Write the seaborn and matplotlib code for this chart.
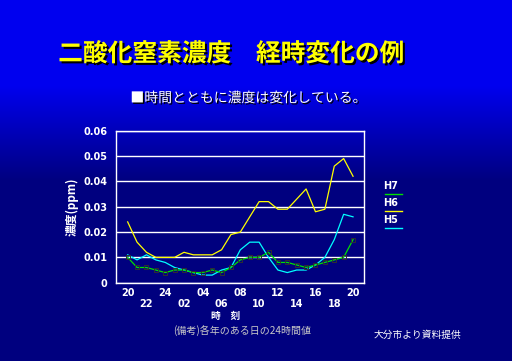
import numpy as np
import pandas as pd
import matplotlib
matplotlib.use("Agg")
import matplotlib.pyplot as plt
import seaborn as sns
from matplotlib.lines import Line2D
import matplotlib.patheffects as pe

# 時刻 (20時から翌20時まで)
hours = ["20", "21", "22", "23", "24", "01", "02", "03", "04", "05", "06", "07", "08",
         "09", "10", "11", "12", "13", "14", "15", "16", "17", "18", "19", "20"]
h7 = [0.010, 0.006, 0.006, 0.005, 0.004, 0.005, 0.005, 0.004, 0.004, 0.005, 0.004, 0.006, 0.009,
      0.010, 0.010, 0.012, 0.008, 0.008, 0.007, 0.006, 0.007, 0.008, 0.009, 0.010, 0.017]
h6 = [0.024, 0.016, 0.012, 0.010, 0.010, 0.010, 0.012, 0.011, 0.011, 0.011, 0.013, 0.019, 0.020,
      0.026, 0.032, 0.032, 0.029, 0.029, 0.033, 0.037, 0.028, 0.029, 0.046, 0.049, 0.042]
h5 = [0.011, 0.009, 0.011, 0.009, 0.008, 0.006, 0.005, 0.004, 0.003, 0.003, 0.005, 0.006, 0.013,
      0.016, 0.016, 0.010, 0.005, 0.004, 0.005, 0.005, 0.007, 0.010, 0.017, 0.027, 0.026]
series = ["H7", "H6", "H5"]
colors = {"H7": "#00e000", "H6": "#ffff00", "H5": "#00ffff"}

n = len(hours)
df = pd.DataFrame({
    "idx": list(range(n)) * 3,
    "val": h7 + h6 + h5,
    "年": ["H7"] * n + ["H6"] * n + ["H5"] * n,
})

plt.rcParams['font.family'] = ['Noto Sans CJK JP', 'DejaVu Sans']

fig = plt.figure(figsize=(5.12, 3.61), dpi=100)

# 背景グラデーション
bg = fig.add_axes([0, 0, 1, 1])
rows = np.arange(361)
t = np.clip((rows - 85) / 95.0, 0, 1)
col = np.zeros((361, 1, 3))
col[:, 0, 2] = 0.94 - t * (0.94 - 0.50)
bg.imshow(col, aspect="auto", extent=[0, 1, 0, 1])
bg.axis("off")

ax = fig.add_axes([0.2266, 0.2169, 0.4844, 0.4211])
ax.set_facecolor("none")
sns.lineplot(data=df[df["年"] != "H7"], x="idx", y="val", hue="年", palette=colors, ax=ax,
             legend=False, linewidth=0.9)
# 緑線は黒い点つき
sns.lineplot(data=df[df["年"] == "H7"], x="idx", y="val", color=colors["H7"], ax=ax,
             legend=False, linewidth=0.9, marker="s", markersize=2.5,
             markerfacecolor="none", markeredgecolor="#303030", markeredgewidth=0.7)

ax.set_xlim(-1.24, 25.17)
ax.set_ylim(0, 0.06)
ax.set_yticks([0, 0.01, 0.02, 0.03, 0.04, 0.05, 0.06])
ax.set_yticklabels(["0", "0.01", "0.02", "0.03", "0.04", "0.05", "0.06"])
ax.grid(axis="y", color="white", linewidth=1)
ax.set_axisbelow(True)
for s in ax.spines.values():
    s.set_color("white")
    s.set_linewidth(1)

ticks = list(range(0, n, 2))
labels = [hours[i] if (i // 2) % 2 == 0 else "\n" + hours[i] for i in ticks]
ax.set_xticks(ticks)
ax.set_xticklabels(labels)
ax.tick_params(length=0, colors="white")
ax.tick_params(axis="x", pad=4)
ax.tick_params(axis="y", pad=6)
for lab in ax.get_xticklabels() + ax.get_yticklabels():
    lab.set_fontweight("bold")
    lab.set_fontsize(7)
    lab.set_family("DejaVu Sans")
for lab in ax.get_xticklabels():
    lab.set_linespacing(1.05)
ax.set_xlabel("")
ax.set_ylabel("濃度(ppm)", color="white", fontsize=8.5, fontweight="bold")
ax.yaxis.set_label_coords(-0.15, 0.5)

fig.text(0.44, 0.125, "時　刻", color="white", fontsize=7, fontweight="bold",
         ha="center", va="center")

# 凡例
leg_y = [0.485, 0.438, 0.391]
for name, y in zip(series, leg_y):
    fig.text(0.749, y, name, color="white", fontsize=7, fontweight="bold",
             family="DejaVu Sans", va="center")
    fig.add_artist(Line2D([0.751, 0.786], [y - 0.023, y - 0.023], color=colors[name],
                          linewidth=1.0, transform=fig.transFigure))

shadow = [pe.withSimplePatchShadow(offset=(1.5, -1.5), shadow_rgbFace="black", alpha=1)]
fig.text(0.452, 0.85, "二酸化窒素濃度　経時変化の例", color="#ffff00", fontsize=17.8,
         fontweight="bold", ha="center", va="center", path_effects=shadow)
fig.text(0.485, 0.728, "■時間とともに濃度は変化している。", color="white", fontsize=10,
         ha="center", va="center",
         path_effects=[pe.withSimplePatchShadow(offset=(1, -1), shadow_rgbFace="black", alpha=1)])
fig.text(0.473, 0.085, "(備考)各年のある日の24時間値", color="#c8c8c8", fontsize=7.2,
         ha="center", va="center")
fig.text(0.816, 0.072, "大分市より資料提供", color="white", fontsize=7,
         ha="center", va="center")

fig.savefig("out.png", dpi=100)
